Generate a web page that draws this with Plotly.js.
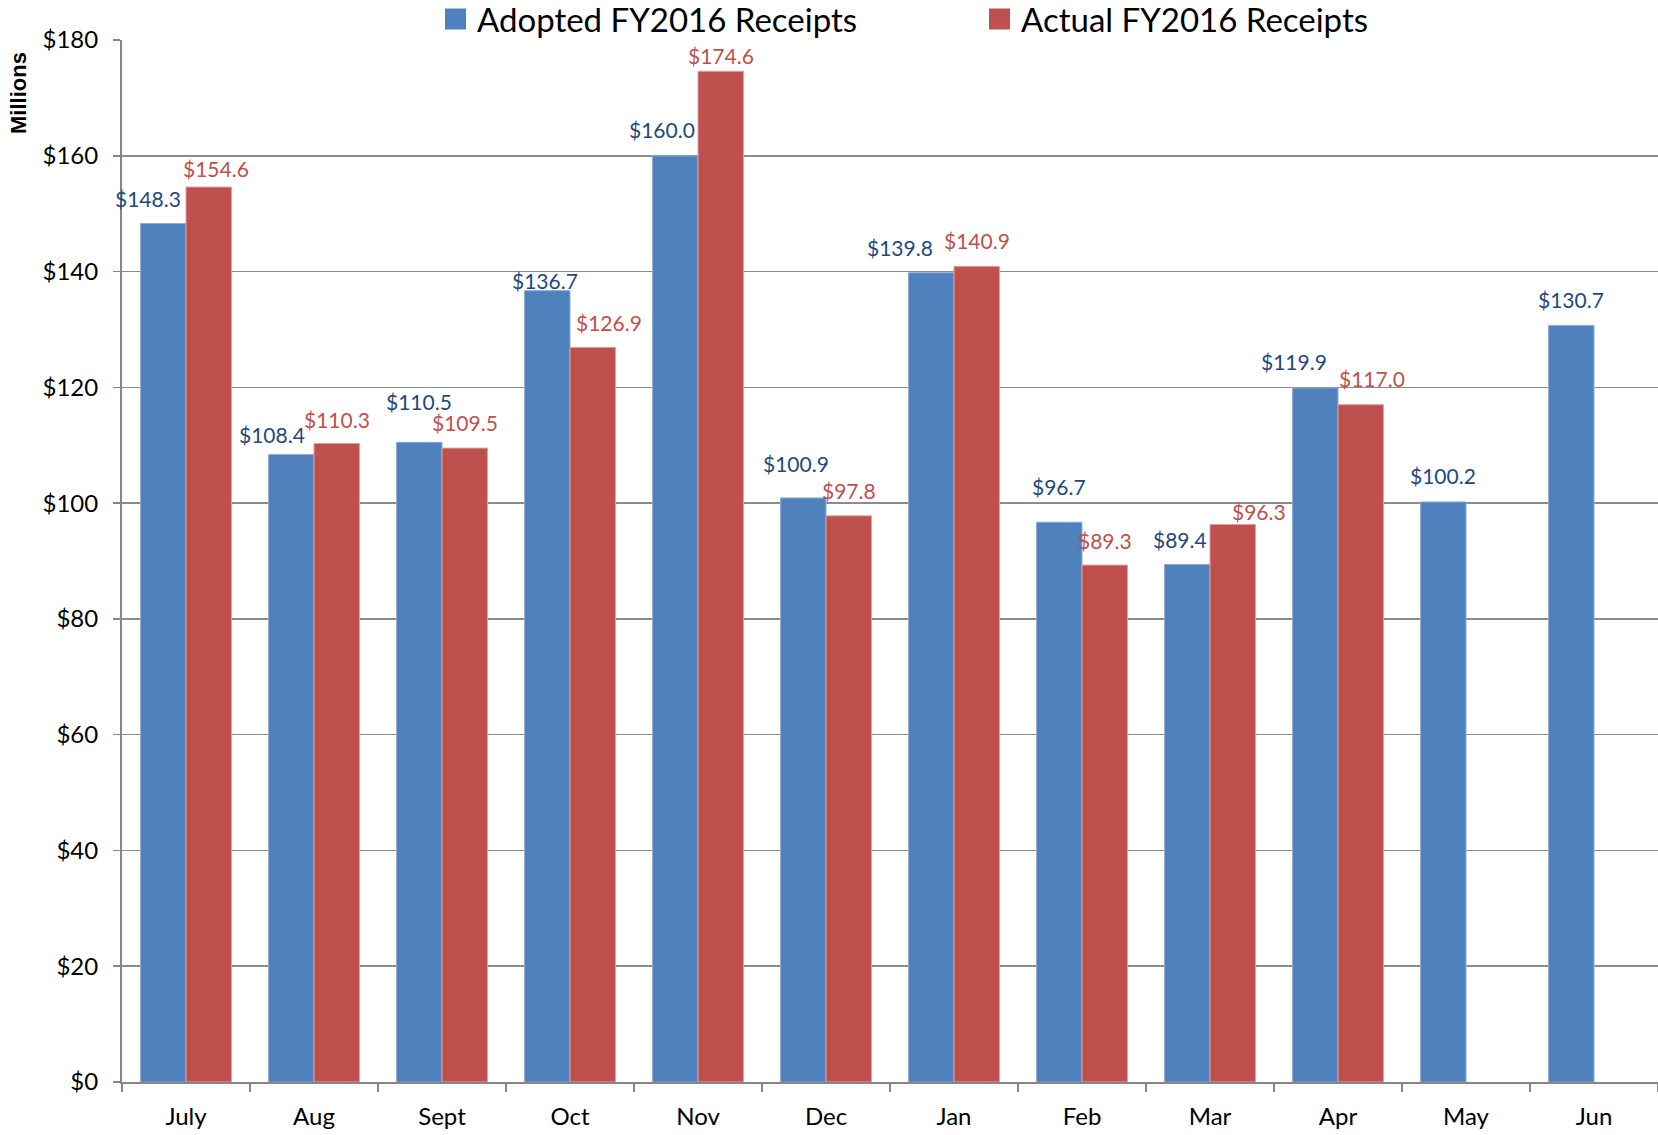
<!DOCTYPE html>
<html><head><meta charset="utf-8">
<script src="https://cdn.plot.ly/plotly-3.0.1.min.js"></script>
<style>html,body{margin:0;padding:0;background:#fff}#chart{width:1658px;height:1135px}</style>
</head><body><div id="chart"></div>
<script>
const months = ['July','Aug','Sept','Oct','Nov','Dec','Jan','Feb','Mar','Apr','May','Jun'];
const adopted = [148.3,108.4,110.5,136.7,160.0,100.9,139.8,96.7,89.4,119.9,100.2,130.7];
const actual = [154.6,110.3,109.5,126.9,174.6,97.8,140.9,89.3,96.3,117.0,null,null];
const seriesNames = ['Adopted FY2016 Receipts','Actual FY2016 Receipts'];
const yTicks = [0,20,40,60,80,100,120,140,160,180];
const yTickText = yTicks.map(v => '$' + v);

// label nudges in pixels [dx, dy] (layout only)
const adoptedNudge = [[-15,25],[-19,20],[0,41],[-2,10],[-13,26],[-7,34],[-31,25],[0,36],[-7,25],[-21,26],[0,26],[0,26]];
const actualNudge = [[7,19],[0,24],[0,26],[16,25],[0,16],[0,25],[0,26],[0,25],[26,13],[11,26],[0,0],[0,0]];

const FONT = 'Lato, "Open Sans", sans-serif';
const BLUE = '#4F81BD', RED = '#C0504D';
const BLUE_TXT = '#1F497D', RED_TXT = '#C0504D';
const L = 122, R = 0, T = 40, B = 53, W = 1658, H = 1135;
const PW = W - L - R, PH = H - T - B;
const BAR_OFF = (PW / months.length) * (1 - 0.29) / 4;

const traces = [
  {type:'bar', name:seriesNames[0], x:months, y:adopted,
   marker:{color:BLUE, line:{color:'#8EAADB', width:1}}, hoverinfo:'y'},
  {type:'bar', name:seriesNames[1], x:months, y:actual,
   marker:{color:RED, line:{color:'#E0A09E', width:1}}, hoverinfo:'y'}
];

const annotations = [];
function addLabels(vals, nudge, sign, color){
  vals.forEach((v,i)=>{
    if(v===null) return;
    annotations.push({x:months[i], y:v, xref:'x', yref:'y', showarrow:false,
      text:'$'+v.toFixed(1), xanchor:'center', yanchor:'middle',
      xshift: sign*BAR_OFF + nudge[i][0], yshift: nudge[i][1],
      font:{family:FONT, size:21, color:color}});
  });
}
addLabels(adopted, adoptedNudge, -1, BLUE_TXT);
addLabels(actual, actualNudge, 1, RED_TXT);

const px = v => (v - L) / PW;
const py = v => (H - B - v) / PH;

annotations.push({xref:'paper', yref:'paper', x:px(19), y:py(93), text:'<b>Millions</b>',
  textangle:-90, showarrow:false, xanchor:'center', yanchor:'middle',
  font:{family:'"Liberation Sans", Arial, sans-serif', size:22, color:'#000'}});

annotations.push({xref:'paper', yref:'paper', x:px(476), y:py(19.5), text:seriesNames[0],
  showarrow:false, xanchor:'left', yanchor:'middle', borderpad:0, font:{family:FONT, size:33, color:'#000'}});
annotations.push({xref:'paper', yref:'paper', x:px(1020), y:py(19.5), text:seriesNames[1],
  showarrow:false, xanchor:'left', yanchor:'middle', borderpad:0, font:{family:FONT, size:33, color:'#000'}});

const shapes = [
  {type:'rect', xref:'paper', yref:'paper', x0:px(445), x1:px(466), y0:py(29.5), y1:py(8.5), fillcolor:BLUE, line:{width:0}},
  {type:'rect', xref:'paper', yref:'paper', x0:px(989), x1:px(1010), y0:py(29.5), y1:py(8.5), fillcolor:RED, line:{width:0}}
];

const layout = {
  width:W, height:H, margin:{l:L, r:R, t:T, b:B, pad:0},
  paper_bgcolor:'#fff', plot_bgcolor:'#fff',
  showlegend:false, barmode:'group', bargap:0.29, bargroupgap:0,
  font:{family:FONT, color:'#000'},
  xaxis:{type:'category', range:[-0.5, 11.5], autorange:false, tickson:'boundaries', ticks:'outside', ticklen:8, tickwidth:1.5,
    tickcolor:'#868686', showline:true, linecolor:'#868686', linewidth:2, ticklabelstandoff:12,
    tickfont:{family:FONT, size:24, color:'#000'}, showgrid:false, fixedrange:true},
  yaxis:{range:[0,180], autorange:false, tickvals:yTicks, ticktext:yTickText, ticks:'outside', ticklen:7, tickwidth:1.5,
    tickcolor:'#868686', showline:true, linecolor:'#868686', linewidth:2, ticklabelstandoff:10,
    gridcolor:'#8C8C8C', gridwidth:1.5, zeroline:false,
    tickfont:{family:FONT, size:24, color:'#000'}, fixedrange:true},
  annotations:annotations, shapes:shapes
};

Plotly.newPlot('chart', traces, layout, {displayModeBar:false, staticPlot:true});
</script></body></html>
